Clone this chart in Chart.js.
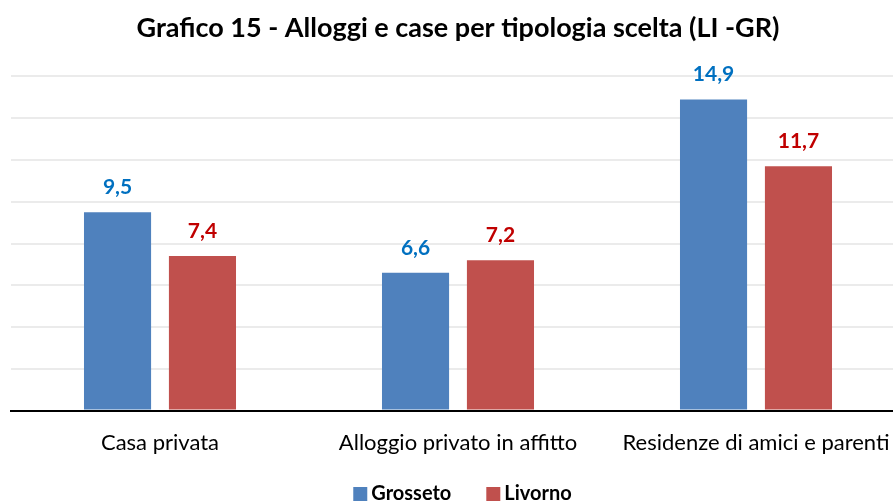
<!DOCTYPE html>
<html>
<head>
<meta charset="utf-8">
<script src="https://cdn.jsdelivr.net/npm/chart.js@4/dist/chart.umd.min.js"></script>
<style>
html,body{margin:0;padding:0;background:#fff;overflow:hidden;}
#wrap{width:893px;height:503px;overflow:hidden;position:relative;}
#box{width:916px;height:503px;position:absolute;left:0;top:0;}
</style>
</head>
<body>
<div id="wrap"><div id="box"><canvas id="c"></canvas></div></div>
<script>
const categories = ["Casa privata", "Alloggio privato in affitto", "Residenze di amici e parenti"];
const grosseto = [9.5, 6.6, 14.9];
const livorno = [7.4, 7.2, 11.7];
const seriesNames = ["Grosseto", "Livorno"];
const titleText = "Grafico 15 - Alloggi e case per tipologia scelta (LI -GR)";

const FONT = "Lato, 'Open Sans', sans-serif";
const labelColors = ["#0070C0", "#C00000"];

const valueLabels = {
  id: "valueLabels",
  afterDatasetsDraw(chart) {
    const ctx = chart.ctx;
    ctx.save();
    ctx.font = "bold 21px " + FONT;
    ctx.textAlign = "center";
    ctx.textBaseline = "alphabetic";
    chart.data.datasets.forEach((ds, i) => {
      const meta = chart.getDatasetMeta(i);
      ctx.fillStyle = labelColors[i];
      meta.data.forEach((bar, j) => {
        ctx.fillText(ds.data[j].toFixed(1).replace(".", ","), bar.x, bar.y - 18);
      });
    });
    ctx.restore();
  }
};

// Legend drawn on the canvas, Excel-like spacing
const bottomLegend = {
  id: "bottomLegend",
  afterDraw(chart) {
    const ctx = chart.ctx;
    ctx.save();
    ctx.font = "bold 20px " + FONT;
    ctx.textBaseline = "alphabetic";
    ctx.textAlign = "left";
    const box = 14, gapBoxText = 4, gapItems = 35;
    const items = chart.data.datasets.map(ds => ({
      text: ds.label, color: ds.backgroundColor, w: ctx.measureText(ds.label).width
    }));
    let total = 0;
    items.forEach((it, i) => { total += box + gapBoxText + it.w + (i < items.length - 1 ? gapItems : 0); });
    let x = chart.width / 2 + 4.5 - total / 2;
    const baseline = 500;
    items.forEach(it => {
      ctx.fillStyle = it.color;
      ctx.fillRect(x, baseline - 13, box, box);
      x += box + gapBoxText;
      ctx.fillStyle = "#000";
      ctx.fillText(it.text, x, baseline);
      x += it.w + gapItems;
    });
    ctx.restore();
  }
};

new Chart(document.getElementById("c"), {
  type: "bar",
  data: {
    labels: categories,
    datasets: [
      { label: seriesNames[0], data: grosseto, backgroundColor: "#4F81BD" },
      { label: seriesNames[1], data: livorno, backgroundColor: "#C0504D" }
    ]
  },
  options: {
    responsive: true,
    maintainAspectRatio: false,
    animation: false,
    categoryPercentage: 0.57,
    barPercentage: 0.79,
    layout: { padding: { left: 11, right: 11, top: 0, bottom: 36 } },
    plugins: {
      title: {
        display: true,
        text: titleText,
        color: "#000",
        font: { family: FONT, size: 27, weight: "bold" },
        padding: { top: 12, bottom: 32 }
      },
      legend: { display: false },
      tooltip: { enabled: false }
    },
    scales: {
      x: {
        grid: { display: false },
        border: { display: true, color: "#000", width: 2 },
        ticks: {
          color: "#000",
          font: { family: FONT, size: 22 },
          maxRotation: 0,
          autoSkip: false,
          padding: 11
        }
      },
      y: {
        min: 0,
        max: 16,
        ticks: { display: false, stepSize: 2 },
        grid: { color: "#EBEBEB", lineWidth: 2, drawTicks: false },
        border: { display: false }
      }
    }
  },
  plugins: [valueLabels, bottomLegend]
});
</script>
</body>
</html>
